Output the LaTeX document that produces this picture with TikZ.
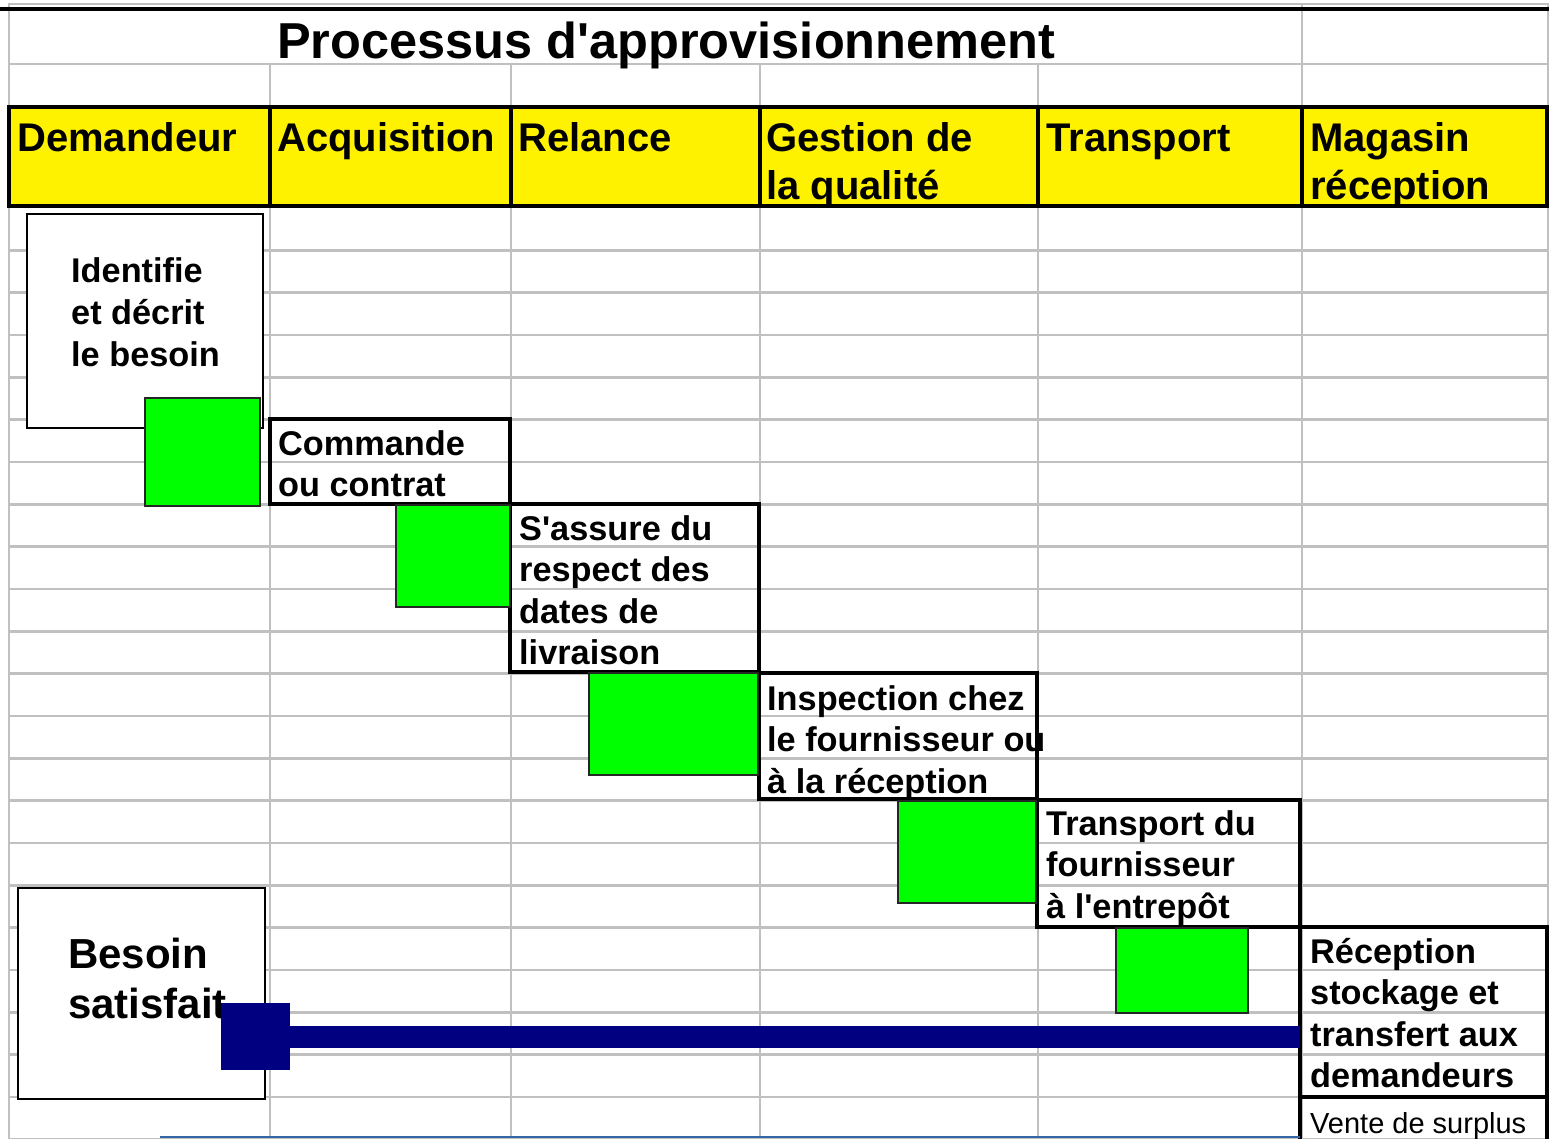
\documentclass[tikz,border=0pt]{standalone}
\usepackage{fontspec}
\setmainfont{Liberation Sans}
\definecolor{vert}{RGB}{0,255,0}
\definecolor{marine}{RGB}{0,0,128}
\definecolor{grisgrille}{RGB}{192,192,192}
\definecolor{bleuligne}{RGB}{52,101,164}
\begin{document}
\begin{tikzpicture}[x=1pt,y=-1pt,
    grille/.style={draw=grisgrille, line width=2.5pt},
    entete/.style={draw, fill=yellow, line width=4.5pt, anchor=north west, minimum height=99pt, inner sep=0pt, outer sep=0pt},
    case/.style={draw, line width=4.5pt, anchor=north west, inner sep=0pt, outer sep=0pt},
    cadre/.style={draw, fill=white, line width=2pt, anchor=north west, inner sep=0pt, outer sep=0pt},
    bloc/.style={draw=black!85, fill=vert, line width=2pt, anchor=north west, inner sep=0pt, outer sep=0pt},
    titre-col/.style={anchor=base west, inner sep=0pt, align=left, font=\fontsize{40}{48}\selectfont\bfseries},
    texte/.style={anchor=base west, inner sep=0pt, align=left, font=\fontsize{34.3}{41.5}\selectfont\bfseries}]
    \useasboundingbox (0,0) rectangle (1549,1139);

    % Grille
    \foreach \y in {4,64}
        \draw[grille] (9,\y) -- (1549,\y);
    \foreach \k in {1,...,22}
        \draw[grille] (9,{208+42.33*\k}) -- (1549,{208+42.33*\k});
    \foreach \x in {9,1302,1548}
        \draw[grille] (\x,3) -- (\x,1139);
    \foreach \x in {270,511,760,1038}
        \draw[grille] (\x,64) -- (\x,1139);

    % Titre
    \draw[line width=4pt] (0,9) -- (1549,9);
    \node[anchor=base west, inner sep=0pt, font=\fontsize{50.5}{60}\selectfont\bfseries] (titre) at (277,59) {Processus d\textquotesingle approvisionnement};

    % Colonnes
    \node[entete, minimum width=261pt] (demandeur) at (9,107) {};
    \node[entete, minimum width=241pt] (acquisition) at (270,107) {};
    \node[entete, minimum width=249pt] (relance) at (511,107) {};
    \node[entete, minimum width=278pt] (qualite) at (760,107) {};
    \node[entete, minimum width=264pt] (transport) at (1038,107) {};
    \node[entete, minimum width=245pt] (magasin) at (1302,107) {};
    \node[titre-col] (demandeur-txt) at ([shift={(8,45)}]demandeur.north west) {Demandeur};
    \node[titre-col] (acquisition-txt) at ([shift={(7,45)}]acquisition.north west) {Acquisition};
    \node[titre-col] (relance-txt) at ([shift={(7,45)}]relance.north west) {Relance};
    \node[titre-col] (qualite-txt) at ([shift={(6,93)}]qualite.north west) {Gestion de\\la qualité};
    \node[titre-col] (transport-txt) at ([shift={(8,45)}]transport.north west) {Transport};
    \node[titre-col] (magasin-txt) at ([shift={(8,93)}]magasin.north west) {Magasin\\réception};

    % Etapes (ancre = ligne de base de la derniere ligne)
    \node[cadre, minimum width=236pt, minimum height=214pt] (besoin) at (26.5,214) {};
    \node[texte] (besoin-txt) at ([shift={(44.5,152)}]besoin.north west) {Identifie\\et décrit\\le besoin};
    \node[case, minimum width=240pt, minimum height=85pt] (commande) at (270,419) {};
    \node[texte] (commande-txt) at ([shift={(8,77.5)}]commande.north west) {Commande\\ou contrat};
    \node[case, minimum width=249pt, minimum height=168pt] (relance-case) at (510,504) {};
    \node[texte] (relance-case-txt) at ([shift={(9,160.5)}]relance-case.north west) {S\textquotesingle assure du\\respect des\\dates de\\livraison};
    \node[case, minimum width=278pt, minimum height=126pt] (inspection) at (759,673) {};
    \node[texte] (inspection-txt) at ([shift={(8,120)}]inspection.north west) {Inspection chez\\le fournisseur ou\\à la réception};
    \node[case, minimum width=263pt, minimum height=127pt] (livraison) at (1037,800) {};
    \node[texte] (livraison-txt) at ([shift={(9,118)}]livraison.north west) {Transport du\\fournisseur\\à l\textquotesingle entrepôt};
    \node[case, minimum width=247pt, minimum height=170pt] (reception) at (1300,927) {};
    \node[texte] (reception-txt) at ([shift={(10,160.5)}]reception.north west) {Réception\\stockage et\\transfert aux\\demandeurs};
    \node[case, minimum width=247pt, minimum height=50pt] (surplus) at (1300,1097) {};
    \node[anchor=base west, inner sep=0pt, font=\fontsize{29}{34}\selectfont] (surplus-txt) at ([shift={(10,36)}]surplus.north west) {Vente de surplus};
    \node[cadre, minimum width=247pt, minimum height=211pt] (satisfait) at (18,888) {};
    \node[anchor=base west, inner sep=0pt, align=left, font=\fontsize{42}{50}\selectfont\bfseries] (satisfait-txt) at ([shift={(50,130)}]satisfait.north west) {Besoin\\satisfait};

    %colorer les blocs
    \node[bloc, minimum width=115pt, minimum height=108pt] (bloc-1) at (145,398) {};
    \node[bloc, minimum width=114pt, minimum height=102pt] (bloc-2) at (396,505) {};
    \node[bloc, minimum width=169pt, minimum height=102pt] (bloc-3) at (589,673) {};
    \node[bloc, minimum width=138pt, minimum height=102pt] (bloc-4) at (898,801) {};
    \node[bloc, minimum width=132pt, minimum height=85pt] (bloc-5) at (1116,928) {};

    % Retour
    \node[fill=marine, minimum width=69pt, minimum height=67pt, anchor=north west, inner sep=0pt, outer sep=0pt] (fin) at (221,1003) {};
    \draw[marine, line width=22pt] (fin.east) -- (fin.east -| reception.west);
    \draw[bleuligne, line width=2.5pt] (160,1137) -- (1300,1137);

\end{tikzpicture}
\end{document}
